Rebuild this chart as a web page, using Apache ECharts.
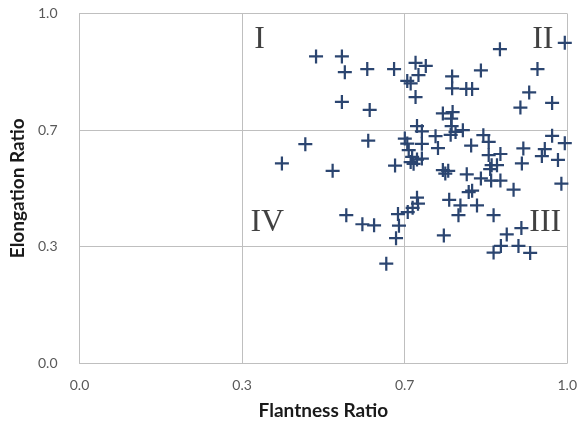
<!DOCTYPE html>
<html>
<head>
<meta charset="utf-8">
<script src="https://cdn.jsdelivr.net/npm/echarts@6/dist/echarts.min.js"></script>
<style>html,body{margin:0;padding:0;background:#fff}#c{width:580px;height:425px}</style>
</head>
<body>
<div id="c"></div>
<script>
// Flatness ratio (x) values
const flatness = [
0.485,0.538,0.544,0.590,0.645,0.689,0.710,0.695,0.672,0.679,0.689,0.538,0.595,0.764,0.764,0.793,0.805,0.823,0.862,0.995,0.939,0.922,0.904,0.969,0.745,0.765,0.762,
0.692,0.702,0.763,0.771,0.786,0.730,0.761,0.828,0.839,0.969,0.995,0.592,0.463,0.667,0.672,0.702,0.735,0.803,0.910,0.954,0.839,0.863,0.948,0.981,
0.675,0.682,0.692,0.702,0.679,0.685,0.647,0.415,0.519,0.907,0.845,0.842,0.856,0.745,0.756,0.750,0.794,0.823,0.844,0.863,0.890,0.988,0.798,0.805,
0.758,0.781,0.815,0.777,0.849,0.692,0.694,0.683,0.673,0.653,0.547,0.580,0.604,0.655,0.649,0.747,0.906,0.876,0.864,0.849,0.900,0.924,0.629
];
// Elongation ratio (y) values
const elongation = [
0.877,0.877,0.832,0.841,0.841,0.859,0.850,0.824,0.807,0.800,0.761,0.747,0.724,0.820,0.786,0.784,0.784,0.837,0.898,0.916,0.841,0.774,0.731,0.744,0.714,0.718,0.699,
0.678,0.663,0.678,0.661,0.666,0.649,0.653,0.652,0.633,0.650,0.629,0.636,0.626,0.642,0.628,0.627,0.615,0.622,0.614,0.612,0.595,0.598,0.592,0.581,
0.609,0.590,0.582,0.585,0.575,0.570,0.565,0.571,0.550,0.571,0.566,0.555,0.566,0.552,0.550,0.542,0.540,0.528,0.522,0.522,0.496,0.513,0.489,0.493,
0.467,0.451,0.451,0.423,0.423,0.473,0.456,0.444,0.432,0.426,0.423,0.397,0.394,0.393,0.357,0.365,0.386,0.368,0.335,0.316,0.335,0.315,0.284
];
// Quadrant labels and their data-space anchors
const quadrantNames = ['I', 'II', 'III', 'IV'];
const quadrantX = [0.369, 0.950, 0.955, 0.385];
const quadrantY = [0.924, 0.924, 0.402, 0.402];
// Axis ticks
const tickMin = 0, tickMax = 1, tickStep = 1 / 3;

const points = flatness.map((x, i) => [x, elongation[i]]);
const quadrants = quadrantNames.map((n, i) => [quadrantX[i], quadrantY[i], n]);

const plus = 'path://M0,4.2H10V5.8H0Z M4.2,0H5.8V10H4.2Z';
const gridColor = '#BFBFBF';

const chart = echarts.init(document.getElementById('c'), null, {renderer: 'canvas'});
chart.setOption({
  animation: false,
  grid: {left: 79.5, right: 8, top: 13.5, bottom: 52.5, containLabel: false},
  xAxis: {
    type: 'value', min: tickMin, max: tickMax, interval: tickStep,
    name: 'Flantness Ratio', nameLocation: 'middle', nameGap: 38,
    nameTextStyle: {fontFamily: 'Lato', fontWeight: 'bold', fontSize: 19, color: '#1a1a1a'},
    axisLine: {show: true, lineStyle: {color: gridColor, width: 1}},
    axisTick: {show: false},
    axisLabel: {formatter: v => v.toFixed(1), fontFamily: 'Lato', fontSize: 14, color: '#595959', margin: 15},
    splitLine: {show: true, lineStyle: {color: gridColor, width: 1}}
  },
  yAxis: {
    type: 'value', min: tickMin, max: tickMax, interval: tickStep,
    name: 'Elongation Ratio', nameLocation: 'middle', nameGap: 48, nameRotate: 90,
    nameTextStyle: {fontFamily: 'Lato', fontWeight: 'bold', fontSize: 19, color: '#1a1a1a'},
    axisLine: {show: true, lineStyle: {color: gridColor, width: 1}},
    axisTick: {show: false},
    axisLabel: {formatter: v => v.toFixed(1), fontFamily: 'Lato', fontSize: 14, color: '#595959', margin: 22},
    splitLine: {show: true, lineStyle: {color: gridColor, width: 1}}
  },
  series: [
    {
      type: 'scatter',
      data: points,
      symbol: plus,
      symbolSize: 14,
      itemStyle: {color: '#2B4570', opacity: 1}
    },
    {
      type: 'scatter',
      data: quadrants,
      symbolSize: 0,
      silent: true,
      label: {
        show: true, position: 'inside',
        formatter: p => p.data[2],
        fontFamily: 'Liberation Serif', fontSize: 32, color: '#111'
      }
    }
  ]
});
</script>
</body>
</html>
